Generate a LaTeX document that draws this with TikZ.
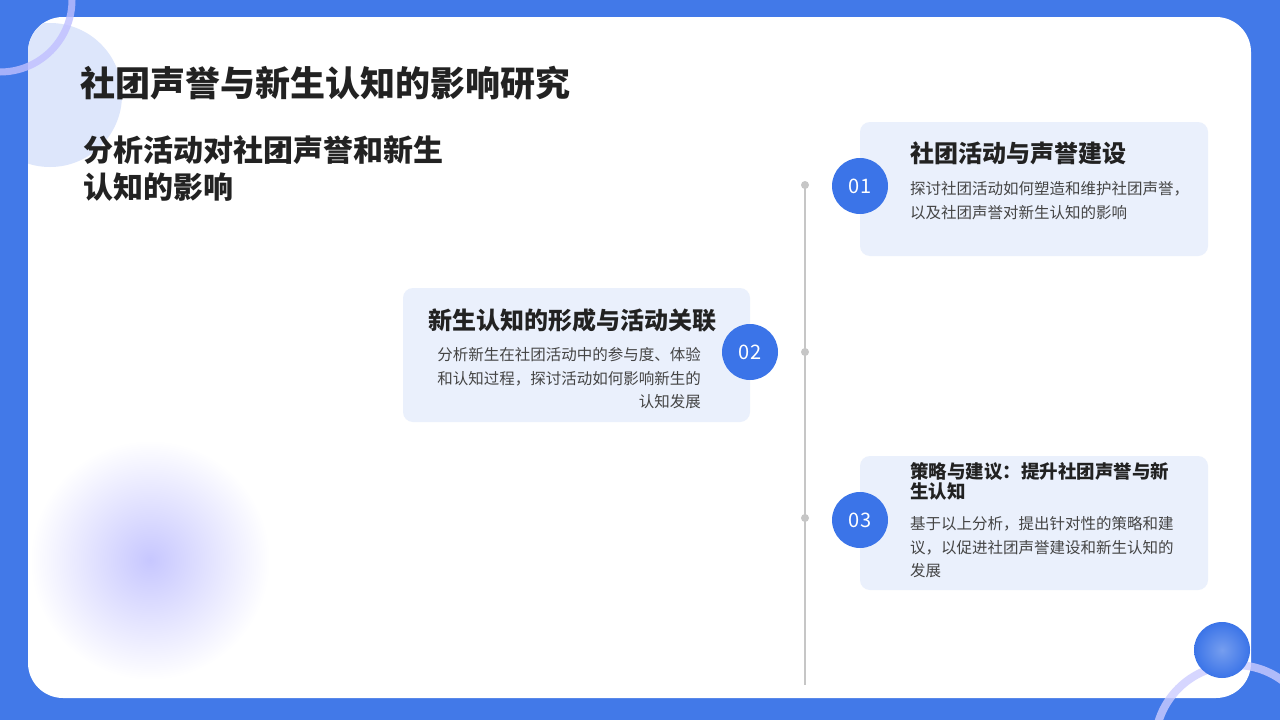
\documentclass[tikz,border=0pt]{standalone}
\usepackage{fontspec}
\setmainfont{Noto Sans CJK SC}
\definecolor{bgblue}{HTML}{4279E8}
\definecolor{cblue}{HTML}{3B74E8}
\definecolor{boxfill}{HTML}{EAF0FC}
\definecolor{lightb}{HTML}{DDE6FB}
\definecolor{txt}{HTML}{222222}
\definecolor{body}{HTML}{444444}
\begin{document}
\begin{tikzpicture}[x=1pt,y=-1pt,
  card/.style={fill=boxfill,rounded corners=10pt,draw=none},
  num/.style={circle,fill=cblue,minimum size=56pt,inner sep=0pt,text=white,font=\fontsize{20}{20}\selectfont},
  dot/.style={circle,fill=gray!45,minimum size=8pt,inner sep=0pt},
  ttl/.style={anchor=west,inner sep=0pt,text=txt,font=\bfseries\fontsize{24}{24}\selectfont},
  bd/.style={anchor=west,inner sep=0pt,text=body,font=\fontsize{15.5}{15.5}\selectfont}]
\useasboundingbox (0,0) rectangle (1280,720);
\fill[bgblue] (0,0) rectangle (1280,720);
\fill[white,rounded corners=35pt] (28,17) rectangle (1251,698);
\begin{scope}
\clip[rounded corners=35pt] (28,17) rectangle (1251,698);
\fill[lightb] (50,95) circle (72);
\shade[inner color=blue!22, outer color=white] (150,560) circle (120);
\end{scope}
\begin{scope}
\clip (0,0) rectangle (1280,720);
\draw[line width=7pt,blue!25,opacity=0.8] (0,0) circle (72);
\draw[line width=8pt,blue!20,opacity=0.8] (1235,745) circle (80);
\shade[inner color=cblue!70,outer color=cblue] (1222,650) circle (28);
\end{scope}
\node[anchor=west,inner sep=0pt,text=txt,font=\bfseries\fontsize{35}{35}\selectfont] (title) at (80,83) {社团声誉与新生认知的影响研究};
\node[anchor=west,inner sep=0pt,text=txt,font=\bfseries\fontsize{30}{30}\selectfont] (sub1) at (83,150) {分析活动对社团声誉和新生};
\node[anchor=west,inner sep=0pt,text=txt,font=\bfseries\fontsize{30}{30}\selectfont] (sub2) at (83,187) {认知的影响};
\coordinate (top) at (805,185);
\coordinate (bot) at (805,685);
\draw[gray!45,line width=1.2pt] (top) -- (bot);
\node[dot] (d1) at (805,185) {};
\node[dot] (d2) at (805,352) {};
\node[dot] (d3) at (805,518) {};
% box 1
\fill[card] (860,122) rectangle (1208,256);
\node[num] (n1) at (860,186) {01};
\node[ttl] (t1) at (910,153) {社团活动与声誉建设};
\node[bd] at (910,189) {探讨社团活动如何塑造和维护社团声誉，};
\node[bd] at (910,213) {以及社团声誉对新生认知的影响};
% box 2
\fill[card] (403,288) rectangle (750,422);
\node[num] (n2) at (750,352) {02};
\node[ttl] (t2) at (428,320) {新生认知的形成与活动关联};
\node[bd,anchor=east] at (701,355) {分析新生在社团活动中的参与度、体验};
\node[bd,anchor=east] at (701,379) {和认知过程，探讨活动如何影响新生的};
\node[bd,anchor=east] at (701,402) {认知发展};
% box 3
\fill[card] (860,456) rectangle (1208,590);
\node[num] (n3) at (860,520) {03};
\node[ttl,font=\bfseries\fontsize{18.5}{18.5}\selectfont] at (910,472) {策略与建议：提升社团声誉与新};
\node[ttl,font=\bfseries\fontsize{18.5}{18.5}\selectfont] at (910,491) {生认知};
\node[bd] at (910,524) {基于以上分析，提出针对性的策略和建};
\node[bd] at (910,548) {议，以促进社团声誉建设和新生认知的};
\node[bd] at (910,571) {发展};
\end{tikzpicture}
\end{document}
